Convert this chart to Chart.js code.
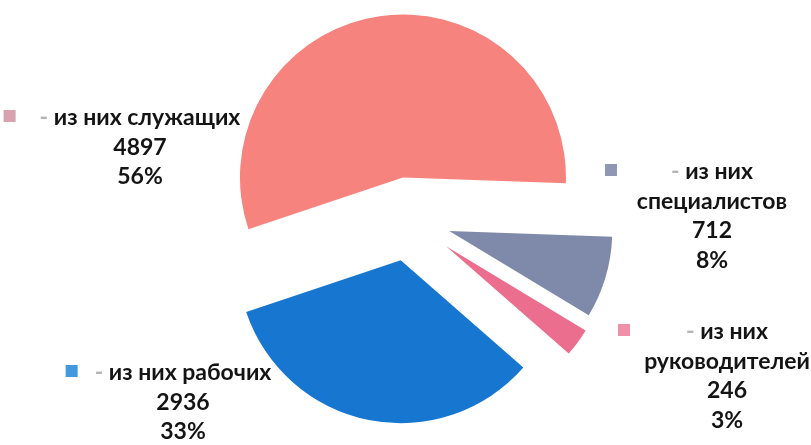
<!DOCTYPE html>
<html>
<head>
<meta charset="utf-8">
<script src="https://cdn.jsdelivr.net/npm/chart.js@4/dist/chart.umd.min.js"></script>
<style>
  html, body { margin: 0; padding: 0; background: #ffffff; }
  #wrap { width: 811px; height: 445px; }
</style>
</head>
<body>
<div id="wrap"><canvas id="c" width="811" height="445"></canvas></div>
<script>
// ---- data ----
const categories = ['специалистов', 'руководителей', 'рабочих', 'служащих'];
const values = [712, 246, 2936, 4897];
const prefix = '- из них';
const wrapName = [true, true, false, false];   // name on its own line

// ---- styles / layout ----
const sliceColors = ['#7F89A9', '#EC6E8E', '#1777D0', '#F6837E'];
const keyColors = ['#8F97B4', '#F08FA8', '#4398DF', '#D8A2AE'];
const explode = [42, 46, 42, 42];
const labelAnchor = [[712, 172], [727, 332], [183, 373], [140, 118]];
const keyGap = [54, 56, 17, 24];
const lineH = 29.5;
const FONT = 'bold 23px Lato, "Open Sans", "DejaVu Sans", sans-serif';

const explodePlugin = {
  id: 'explode',
  beforeDatasetsDraw(chart) {
    const a = chart.chartArea;
    const cx = (a.left + a.right) / 2, cy = (a.top + a.bottom) / 2;
    chart.getDatasetMeta(0).data.forEach((arc, i) => {
      const mid = (arc.startAngle + arc.endAngle) / 2;
      arc.x = cx + explode[i] * Math.cos(mid);
      arc.y = cy + explode[i] * Math.sin(mid);
    });
  }
};

const labelPlugin = {
  id: 'sliceLabels',
  afterDatasetsDraw(chart) {
    const ctx = chart.ctx;
    const total = values.reduce((s, v) => s + v, 0);
    ctx.save();
    ctx.font = FONT;
    ctx.textBaseline = 'middle';
    ctx.textAlign = 'left';
    categories.forEach((name, i) => {
      const [x, y0] = labelAnchor[i];
      const lines = wrapName[i]
        ? [prefix, name]
        : [prefix + ' ' + name];
      lines.push(String(values[i]));
      lines.push(Math.round(values[i] / total * 100) + '%');
      lines.forEach((t, k) => {
        const y = y0 + k * lineH;
        const w = ctx.measureText(t).width;
        const sx = x - w / 2;
        if (k === 0) {
          const dashW = ctx.measureText('- ').width;
          ctx.fillStyle = '#b5b5b5';
          ctx.fillText('-', sx, y);
          ctx.fillStyle = '#141414';
          ctx.fillText(t.slice(2), sx + dashW, y);
          ctx.fillStyle = keyColors[i];
          ctx.fillRect(sx - keyGap[i] - 12, y - 8, 12, 12);
        } else {
          ctx.fillStyle = '#141414';
          ctx.fillText(t, sx, y);
        }
      });
    });
    ctx.restore();
  }
};

new Chart(document.getElementById('c'), {
  type: 'pie',
  data: {
    labels: categories,
    datasets: [{
      data: values,
      backgroundColor: sliceColors,
      borderWidth: 0
    }]
  },
  options: {
    responsive: false,
    animation: false,
    devicePixelRatio: 1,
    rotation: 92,
    radius: 163,
    layout: { padding: { left: 7, right: 0, top: 0, bottom: 7 } },
    plugins: {
      legend: { display: false },
      tooltip: { enabled: false },
      title: { display: false }
    }
  },
  plugins: [explodePlugin, labelPlugin]
});
</script>
</body>
</html>
